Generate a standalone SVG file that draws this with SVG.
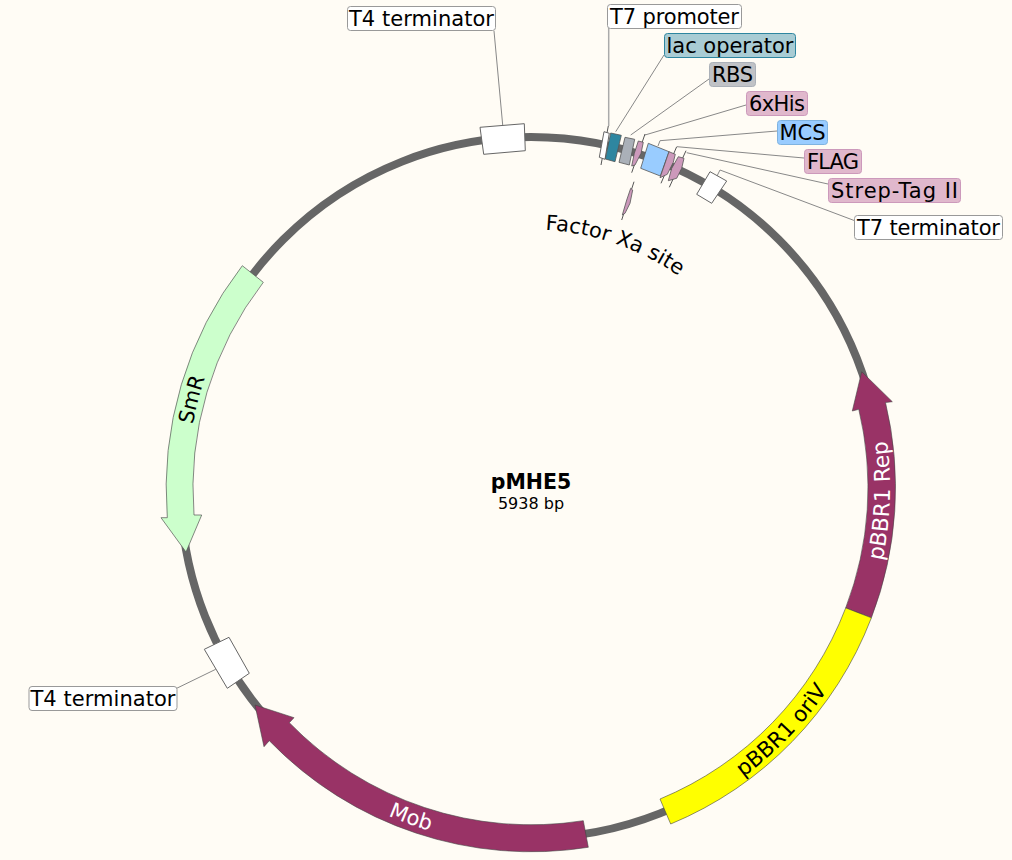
<svg xmlns="http://www.w3.org/2000/svg" width="1012" height="860" viewBox="0 0 1012 860">
<style>
text{font-family:"DejaVu Sans",Verdana,sans-serif;fill:#000}
.lb{font-size:21px;text-anchor:middle}
.box{stroke-width:1}
.f{stroke:#555;stroke-width:.8}
.lead{fill:none;stroke:#888;stroke-width:1}
.sl{fill:none;stroke:#555;stroke-width:1}
.w{fill:#fff;stroke:#666;stroke-width:1}
.pk{fill:#cc99bb}
.pkb{fill:#e0b8cc;stroke:#cc99bb}
.on{font-size:21px;text-anchor:middle}
</style>
<defs>
<path id="pR" d="M531 846.500A359 359 0 0 0 531 128.500"/>
<path id="pB" d="M173 487.500A358 358 0 0 0 889 487.500"/>
<path id="pL" d="M531 831.500A344 344 0 0 1 531 143.500"/>
<path id="pT" d="M273 487.500A258 258 0 0 1 789 487.500"/>
</defs>
<rect width="1012" height="860" fill="#fffcf5"/>
<g id="connectors">
<circle cx="531" cy="487.500" r="350.500" fill="none" stroke="#666" stroke-width="8"/>
<path class="lead" d="M494 31L502.700 125"/>
<path class="lead" style="stroke:#aaa;stroke-width:1.500" d="M608.700 28V126"/>
<path class="lead" d="M664 55L615.700 131.700"/>
<path class="lead" d="M709 79L630.700 135"/>
<path class="lead" d="M746 105L645 135"/>
<path class="lead" d="M777 131L660 140.700L658 146"/>
<path class="lead" d="M804 158L677 146.700"/>
<path class="lead" d="M828 184L686.700 152.700"/>
<path class="lead" d="M854.700 220.700L720 170L717 176"/>
<path class="lead" d="M176.700 688.300L215.700 669.300"/>
</g>
<g id="rep"><path d="M861.700 371.700L892.300 401.700L885.500 402.500A364.500 364.500 0 0 1 871.400 617.800L845.700 607.900A337 337 0 0 0 858.800 409.300L852.300 411Z" fill="#993366" stroke="#444" stroke-width=".6"/>
<text class="on" style="fill:#fff;font-size:21.800px"><textPath href="#pR" startOffset="48.800%">pBBR1 Rep</textPath></text></g>
<g id="oriv"><path d="M871.400 617.800A364.500 364.500 0 0 1 670.700 824L660 799A337 337 0 0 0 845.700 607.900Z" fill="#ffff00" stroke="#444" stroke-width=".6"/>
<text class="on" style="font-size:21.500px"><textPath href="#pR" startOffset="25.500%">pBBR1 oriV</textPath></text></g>
<g id="mob"><path d="M583.300 820.700L588.300 847.300A364.500 364.500 0 0 1 269.300 740.700L264 746.700L255 705L294 717.700L289.300 722.700A337 337 0 0 0 583.300 820.700Z" fill="#993366" stroke="#444" stroke-width=".6"/>
<text class="on" style="fill:#fff"><textPath href="#pB" startOffset="38.900%">Mob</textPath></text></g>
<g id="smr"><path d="M242.300 265.700L263.300 282.300A337.300 337.300 0 0 0 194 515L201.700 515L186 552L161 517.700L167.300 517.700A364.800 364.800 0 0 1 242.300 265.700Z" fill="#ccffcc" stroke="#555" stroke-width=".7"/>
<text class="on"><textPath href="#pL" startOffset="58.100%">SmR</textPath></text></g>
<g id="t4a"><path class="w" d="M480 127.300L524.300 123.700L525.300 150.700L483.700 154.300Z"/><rect class="box" x="347.500" y="6.500" width="148" height="24" rx="3" fill="#fff" stroke="#999"/><text class="lb" x="421.500" y="26" textLength="145">T4 terminator</text></g>
<g id="t4b"><path class="w" d="M204.300 649.300L229 637.300L249.300 673.300L227.300 688.300Z"/><rect class="box" x="29" y="686.500" width="148" height="24" rx="3" fill="#fff" stroke="#999"/><text class="lb" x="103" y="706" textLength="145">T4 terminator</text></g>
<g id="t7p"><path class="sl" d="M608.300 126L601 165"/><path class="w" d="M604 131.700L609.300 133.300L605 159.300L599.300 157.300Z"/><rect class="box" x="607.500" y="4.500" width="134" height="24" rx="3" fill="#fff" stroke="#999"/><text class="lb" x="674.500" y="24" textLength="129">T7 promoter</text></g>
<g id="lac"><path class="f" fill="#2e86a0" d="M610.700 133L621.300 135.300L615 161.700L605.300 159Z"/><rect class="box" x="664.500" y="33.500" width="131" height="24" rx="3" fill="#a9ccd4" stroke="#2e86a0"/><text class="lb" x="730" y="53" textLength="127">lac operator</text></g>
<g id="rbs"><path class="f" fill="#aab0b8" d="M625 137.300L634.700 139.300L629.300 165L619 162.300Z"/><rect class="box" x="709.500" y="62.500" width="46" height="24" rx="3" fill="#c0c2c6" stroke="#aab0b8"/><text class="lb" x="732.500" y="82" textLength="41">RBS</text></g>
<g id="his"><path class="sl" d="M645 134L631.700 172.700"/><path class="f pk" d="M638.300 141L643.300 142.300L641 153.300L635 165L631.700 166L634.300 153.300Z"/><rect class="box pkb" x="746.500" y="91.500" width="61" height="24" rx="3"/><text class="lb" x="777" y="111" textLength="56">6xHis</text></g>
<g id="mcs"><path class="f" fill="#99ccff" d="M648.300 143.300L669 151.700L660.300 176L640.700 168.300Z"/><rect class="box" x="777.500" y="120.500" width="50" height="24" rx="3" fill="#99ccff" stroke="#7fb3e0"/><text class="lb" x="802.500" y="140" textLength="46">MCS</text></g>
<g id="flag"><path class="sl" d="M676.700 146.700L661 183.300"/><path class="f pk" d="M669 151.700L675.300 154.300L673.300 162.300L667.300 174.300L660 177.700Z"/><rect class="box pkb" x="804.500" y="149.500" width="57" height="24" rx="3"/><text class="lb" x="833" y="169" textLength="52">FLAG</text></g>
<g id="strep"><path class="sl" d="M686 150.700L669.300 187.300"/><path class="f pk" d="M678.300 156.700L684 158.300L681.700 168.300L676.700 178.300L668.300 180.700L671.700 168.300Z"/><rect class="box pkb" x="828.500" y="178.500" width="132" height="24" rx="3"/><text class="lb" x="894.500" y="198" textLength="127">Strep-Tag II</text></g>
<g id="t7t"><path class="w" d="M696.700 194.300L710 171.700L726.700 181L711.700 203.300Z"/><rect class="box" x="854.500" y="215.500" width="148" height="24" rx="3" fill="#fff" stroke="#999"/><text class="lb" x="928.500" y="235" textLength="143">T7 terminator</text></g>
<g id="xa"><path class="sl" d="M634 181.700L621.700 220"/><path class="f pk" d="M630.700 188.300L632.700 190L630 203.300L625 213.300L622.300 215L626.700 200Z"/><text class="on"><textPath href="#pT" startOffset="60.600%">Factor Xa site</textPath></text></g>
<g id="title"><text x="531" y="488.500" font-size="20.500" font-weight="bold" text-anchor="middle">pMHE5</text><text x="531" y="508.500" font-size="16" text-anchor="middle">5938 bp</text></g>
</svg>
